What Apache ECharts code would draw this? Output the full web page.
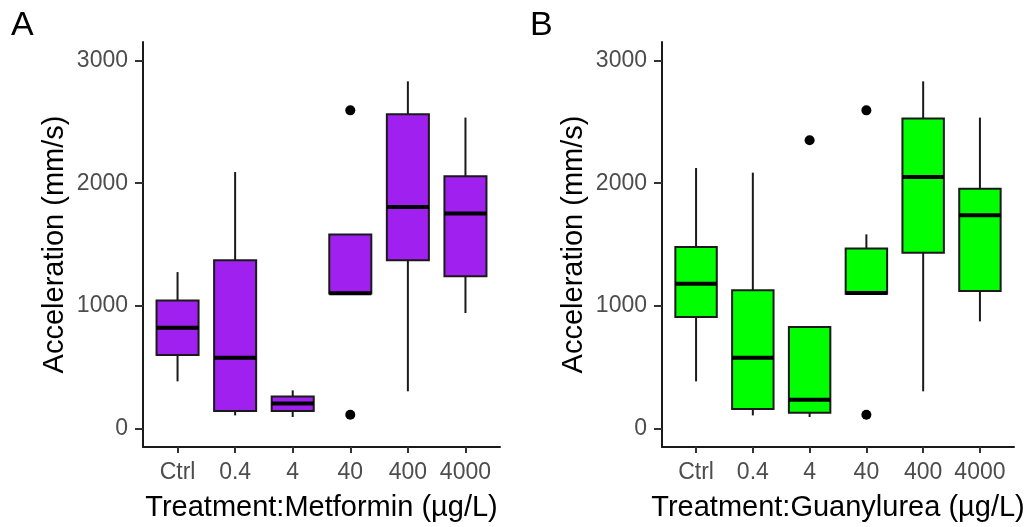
<!DOCTYPE html>
<html>
<head>
<meta charset="utf-8">
<script src="https://cdn.jsdelivr.net/npm/echarts@6/dist/echarts.min.js"></script>
<style>
html,body{margin:0;padding:0;background:#fff;}
#chart{width:1029px;height:527px;}
</style>
</head>
<body>
<div id="chart"></div>
<script>
// ---- data ----
const categories = ['Ctrl', '0.4', '4', '40', '400', '4000'];
const yTicks = [0, 1000, 2000, 3000];
// [lower whisker, Q1, median, Q3, upper whisker]
const metforminStats = [
  [388, 602, 825, 1045, 1277],
  [111, 146, 581, 1373, 2091],
  [98, 146, 207, 264, 315],
  [1102, 1102, 1104, 1582, 1582],
  [307, 1373, 1806, 2561, 2829],
  [944, 1243, 1753, 2056, 2534]
];
const guanylureaStats = [
  [388, 911, 1183, 1481, 2124],
  [111, 163, 581, 1129, 2086],
  [98, 133, 239, 830, 830],
  [1100, 1100, 1106, 1468, 1584],
  [307, 1435, 2050, 2526, 2829],
  [876, 1123, 1739, 1956, 2534]
];
// [category index, value]
const metforminOutliers = [[3, 2593], [3, 117]];
const guanylureaOutliers = [[2, 2349], [3, 2593], [3, 117]];
const panelLabels = ['A', 'B'];
const xTitles = ['Treatment:Metformin (\u00b5g/L)', 'Treatment:Guanylurea (\u00b5g/L)'];
const yTitle = 'Acceleration (mm/s)';
const fills = ['#A020F0', '#00FF00'];

// ---- chart ----
const FONT = '"Liberation Sans", Arial, sans-serif';
const tickVals = categories.map((c, i) => i);

function boxData(stats) {
  return stats.map((s, i) => [i].concat(s));
}

function makeRender(fill) {
  return function (params, api) {
    const x = api.value(0);
    const lo = api.coord([x, api.value(1)]);
    const q1 = api.coord([x, api.value(2)]);
    const md = api.coord([x, api.value(3)]);
    const q3 = api.coord([x, api.value(4)]);
    const hi = api.coord([x, api.value(5)]);
    const w = api.size([0.73, 0])[0];
    const cx = lo[0];
    const lineStyle = { stroke: '#1a1a1a', lineWidth: 2 };
    return {
      type: 'group',
      children: [
        { type: 'line', shape: { x1: cx, y1: hi[1], x2: cx, y2: q3[1] }, style: lineStyle },
        { type: 'line', shape: { x1: cx, y1: q1[1], x2: cx, y2: lo[1] }, style: lineStyle },
        { type: 'rect', shape: { x: cx - w / 2, y: q3[1], width: w, height: q1[1] - q3[1] },
          style: { fill: fill, stroke: '#1a1a1a', lineWidth: 2 } },
        { type: 'line', shape: { x1: cx - w / 2, y1: md[1], x2: cx + w / 2, y2: md[1] },
          style: { stroke: '#000', lineWidth: 4 } }
      ]
    };
  };
}

const grids = [
  { left: 143, top: 42, width: 357, height: 405 },
  { left: 662, top: 42, width: 352, height: 405 }
];

function xAxis(i) {
  return {
    type: 'value', gridIndex: i, min: -0.6, max: 5.6,
    name: xTitles[i], nameLocation: 'middle', nameGap: 46,
    nameTextStyle: { fontFamily: FONT, fontSize: 29, color: '#000' },
    axisLine: { show: true, onZero: false, lineStyle: { color: '#1a1a1a', width: 2 } },
    axisTick: { show: true, length: 6, customValues: tickVals, lineStyle: { color: '#333', width: 2 } },
    axisLabel: { customValues: tickVals, margin: 14, fontFamily: FONT, fontSize: 23, color: '#4D4D4D',
      formatter: v => categories[Math.round(v)] },
    splitLine: { show: false }
  };
}
function yAxis(i) {
  return {
    type: 'value', gridIndex: i, min: -146, max: 3149,
    name: yTitle, nameLocation: 'middle', nameGap: 74, nameRotate: 90,
    nameTextStyle: { fontFamily: FONT, fontSize: 29, color: '#000' },
    axisLine: { show: true, onZero: false, lineStyle: { color: '#1a1a1a', width: 2 } },
    axisTick: { show: true, length: 8, customValues: yTicks, lineStyle: { color: '#333', width: 2 } },
    axisLabel: { customValues: yTicks, margin: 15, fontFamily: FONT, fontSize: 23, color: '#4D4D4D',
      formatter: v => String(v) },
    splitLine: { show: false }
  };
}

const allStats = [metforminStats, guanylureaStats];
const allOut = [metforminOutliers, guanylureaOutliers];
const series = [];
[0, 1].forEach(i => {
  series.push({
    type: 'custom', xAxisIndex: i, yAxisIndex: i,
    data: boxData(allStats[i]),
    encode: { x: 0, y: [1, 2, 3, 4, 5] },
    renderItem: makeRender(fills[i]),
    silent: true
  });
  series.push({
    type: 'scatter', xAxisIndex: i, yAxisIndex: i,
    data: allOut[i], symbol: 'circle', symbolSize: 10,
    itemStyle: { color: '#000', opacity: 1 }, silent: true, z: 5
  });
});

const chart = echarts.init(document.getElementById('chart'), null, { renderer: 'canvas' });
chart.setOption({
  animation: false,
  backgroundColor: '#ffffff',
  grid: grids,
  xAxis: [xAxis(0), xAxis(1)],
  yAxis: [yAxis(0), yAxis(1)],
  series: series,
  graphic: [
    { type: 'text', left: 11, top: 9, style: { text: panelLabels[0], font: '34px ' + FONT, fill: '#000' } },
    { type: 'text', left: 530, top: 9, style: { text: panelLabels[1], font: '34px ' + FONT, fill: '#000' } }
  ]
});
</script>
</body>
</html>
